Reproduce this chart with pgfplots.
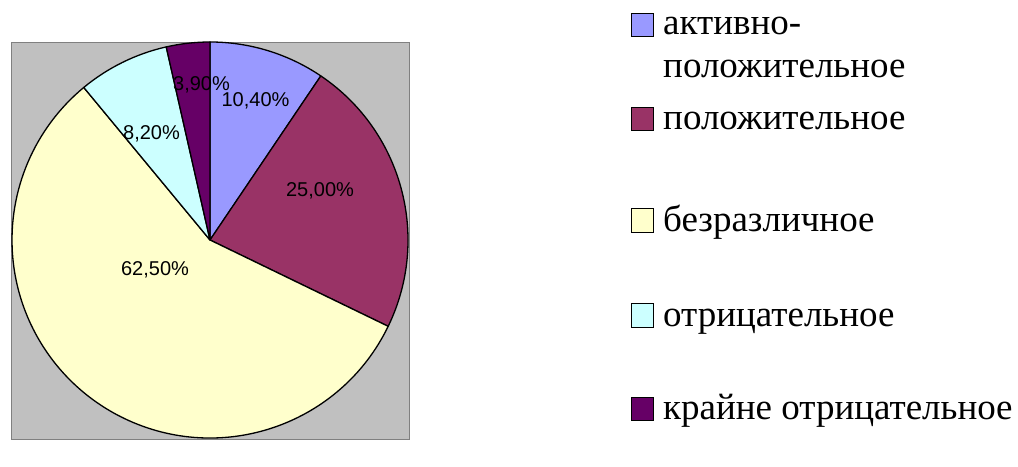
\documentclass[border=0pt]{standalone}
\usepackage{fontspec}
\setmainfont{Liberation Serif}
\newfontfamily\timesf{Liberation Serif}
\newfontfamily\arial{Liberation Sans}
\usepackage{pgfplots}
\usepackage{pgfplotstable}
\pgfplotsset{compat=1.18}
\definecolor{cA}{HTML}{9999FF}
\definecolor{cB}{HTML}{993366}
\definecolor{cC}{HTML}{FFFFCC}
\definecolor{cD}{HTML}{CCFFFF}
\definecolor{cE}{HTML}{660066}
\definecolor{bg}{HTML}{C0C0C0}
\definecolor{bd}{HTML}{808080}
% value, slice colour, label position (image px)
\pgfplotstableread{
value col lx ly
10.4 cA 255.5 100.5
25.0 cB 320 190.5
62.5 cC 155 269.5
8.2 cD 151.5 133.5
3.9 cE 201.5 84.5
}\piedata
\begin{document}
\begin{tikzpicture}
\pgfmathsetmacro\total{0}%
\pgfplotsforeachungrouped \i in {0,...,4}{%
  \pgfplotstablegetelem{\i}{value}\of\piedata
  \pgfmathsetmacro\total{\total+\pgfplotsretval}%
}%
\def\start{90}%
\pgfplotsforeachungrouped \i in {0,...,4}{%
  \pgfplotstablegetelem{\i}{value}\of\piedata
  \expandafter\xdef\csname v\i\endcsname{\pgfplotsretval}%
  \pgfmathsetmacro\sweep{3.6*(\pgfplotsretval/\total)*100}%
  \expandafter\xdef\csname s\i\endcsname{\start}%
  \pgfmathsetmacro\start{\start-\sweep}%
  \expandafter\xdef\csname e\i\endcsname{\start}%
  \pgfplotstablegetelem{\i}{col}\of\piedata
  \expandafter\xdef\csname c\i\endcsname{\pgfplotsretval}%
  \pgfplotstablegetelem{\i}{lx}\of\piedata
  \expandafter\xdef\csname lx\i\endcsname{\pgfplotsretval}%
  \pgfplotstablegetelem{\i}{ly}\of\piedata
  \pgfmathsetmacro\tmp{439-\pgfplotsretval}%
  \expandafter\xdef\csname ly\i\endcsname{\tmp}%
}%
\begin{axis}[
  width=1018pt, height=439pt, scale only axis,
  xmin=0, xmax=1018, ymin=0, ymax=439,
  hide axis, clip=false,
]
\path (axis cs:0,0) (axis cs:1018,439);
\filldraw[fill=bg, draw=bd, line width=0.8pt] (axis cs:11,0) rectangle (axis cs:409,397);
\pgfplotsinvokeforeach{0,...,4}{%
  \filldraw[fill=\csname c#1\endcsname, draw=black, line width=1.3pt, line join=round]
    (axis cs:210,199) -- ++(\csname s#1\endcsname:198pt)
    arc[start angle=\csname s#1\endcsname, end angle=\csname e#1\endcsname, radius=198pt] -- cycle;
}
\pgfplotsinvokeforeach{0,...,4}{%
  \node[font=\arial\fontsize{20}{24}\selectfont, inner sep=0pt]
    at (axis cs:\csname lx#1\endcsname,\csname ly#1\endcsname)
    {\pgfmathprintnumber[fixed, fixed zerofill, precision=2, use comma, assume math mode=true]{\csname v#1\endcsname}\%};
}
% legend
\filldraw[fill=cA, draw=black, line width=0.8pt] (axis cs:631,403) rectangle (axis cs:653,426);
\filldraw[fill=cB, draw=black, line width=0.8pt] (axis cs:631,309) rectangle (axis cs:653,332);
\filldraw[fill=cC, draw=black, line width=0.8pt] (axis cs:631,207) rectangle (axis cs:653,231);
\filldraw[fill=cD, draw=black, line width=0.8pt] (axis cs:631,112) rectangle (axis cs:653,136);
\filldraw[fill=cE, draw=black, line width=0.8pt] (axis cs:631,19) rectangle (axis cs:653,42);
\tikzset{legtxt/.style={anchor=base west, inner sep=0pt, font=\timesf\fontsize{37}{43}\selectfont}}
\node[legtxt] at (axis cs:663,404) {активно-};
\node[legtxt] at (axis cs:663,361) {положительное};
\node[legtxt] at (axis cs:663,309) {положительное};
\node[legtxt] at (axis cs:663,207) {безразличное};
\node[legtxt] at (axis cs:663,112) {отрицательное};
\node[legtxt] at (axis cs:663,19) {крайне отрицательное};
\end{axis}
\end{tikzpicture}
\end{document}
